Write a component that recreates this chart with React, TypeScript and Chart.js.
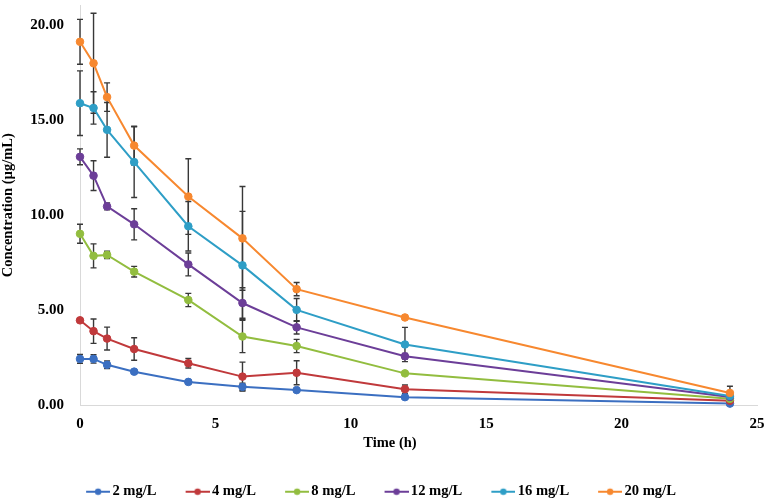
import React, { useEffect, useRef } from 'react';
import { Chart, registerables } from 'chart.js';

Chart.register(...registerables);

// ---- data ----
const times = [0, 0.5, 1, 2, 4, 6, 8, 12, 24];
const seriesLabels = ['2 mg/L', '4 mg/L', '8 mg/L', '12 mg/L', '16 mg/L', '20 mg/L'];

const conc2 = [2.45, 2.45, 2.14, 1.78, 1.24, 0.98, 0.81, 0.44, 0.1];
const conc4 = [4.48, 3.91, 3.52, 2.97, 2.22, 1.52, 1.72, 0.86, 0.25];
const conc8 = [9.03, 7.87, 7.92, 7.04, 5.55, 3.63, 3.13, 1.69, 0.35];
const conc12 = [13.08, 12.09, 10.47, 9.53, 7.42, 5.39, 4.11, 2.59, 0.45];
const conc16 = [15.9, 15.65, 14.5, 12.8, 9.43, 7.37, 5.03, 3.21, 0.5];
const conc20 = [19.13, 18.0, 16.22, 13.67, 10.99, 8.79, 6.12, 4.63, 0.66];

const err2 = [0.23, 0.22, 0.2, 0.1, 0.1, 0.19, 0.06, 0.05, 0.05];
const err4 = [0.1, 0.64, 0.6, 0.59, 0.25, 0.76, 0.63, 0.22, 0.05];
const err8 = [0.5, 0.63, 0.19, 0.28, 0.35, 0.85, 0.35, 0.05, 0.05];
const err12 = [0.42, 0.78, 0.18, 0.82, 0.6, 0.8, 0.35, 0.15, 0.05];
const err16 = [1.7, 0.85, 1.44, 1.86, 1.3, 2.84, 0.6, 0.9, 0.1];
const err20 = [1.18, 2.63, 0.75, 1.02, 1.99, 2.73, 0.35, 0.1, 0.35];

const xTicks = [0, 5, 10, 15, 20, 25];
const yTicks = [0, 5, 10, 15, 20];

const xTitle = 'Time (h)';
const yTitle = 'Concentration (µg/mL)';

// ---- style ----
const colors = ['#3B6FC1', '#C0393B', '#92BD3F', '#6C3E98', '#2E9EC6', '#F7882F'];
const allValues = [conc2, conc4, conc8, conc12, conc16, conc20];
const allErrors = [err2, err4, err8, err12, err16, err20];

const W = 765;
const H = 501;
const PAD_BOTTOM = -8;
const PLOT_BOTTOM = 405.5;
const Y_MAX = PLOT_BOTTOM / 19.25;
const FAMILY = "'Liberation Serif', 'Times New Roman', Times, serif";

function legendIcon(color: string) {
  const c = document.createElement('canvas');
  c.width = 34;
  c.height = 10;
  const g = c.getContext('2d')!;
  g.strokeStyle = color;
  g.lineWidth = 2;
  g.beginPath();
  g.moveTo(10, 5);
  g.lineTo(34, 5);
  g.stroke();
  g.fillStyle = color;
  g.beginPath();
  g.arc(22, 5, 3.2, 0, Math.PI * 2);
  g.fill();
  return c;
}

const errorBarPlugin = {
  id: 'errorBars',
  beforeDatasetsDraw(chart: any) {
    const { ctx } = chart;
    const xs = chart.scales.x;
    const ys = chart.scales.y;
    ctx.save();
    ctx.strokeStyle = '#383838';
    ctx.lineWidth = 1.4;
    allValues.forEach((vals, i) => {
      const errs = allErrors[i];
      vals.forEach((v, j) => {
        const e = errs[j];
        const px = xs.getPixelForValue(times[j]);
        const top = ys.getPixelForValue(v + e);
        const bot = ys.getPixelForValue(v - e);
        ctx.beginPath();
        ctx.moveTo(px, top);
        ctx.lineTo(px, bot);
        ctx.moveTo(px - 3, top);
        ctx.lineTo(px + 3, top);
        ctx.moveTo(px - 3, bot);
        ctx.lineTo(px + 3, bot);
        ctx.stroke();
      });
    });
    ctx.restore();
  },
};

const xTitlePlugin = {
  id: 'xTitle',
  afterDraw(chart: any) {
    const { ctx, chartArea } = chart;
    const xs = chart.scales.x;
    ctx.save();
    ctx.font = `bold 14.5px ${FAMILY}`;
    ctx.fillStyle = '#000';
    ctx.textAlign = 'center';
    ctx.textBaseline = 'middle';
    ctx.fillText(xTitle, chartArea.left + 310, xs.top + 38);
    ctx.restore();
  },
};

export default function App() {
  const ref = useRef<HTMLCanvasElement | null>(null);

  useEffect(() => {
    document.body.style.margin = '0';
    const canvas = ref.current!;
    const icons = colors.map(legendIcon);
    const tickFont = { family: FAMILY, size: 15, weight: 'bold' as const };
    const titleFont = { family: FAMILY, size: 14.5, weight: 'bold' as const, lineHeight: 1.15 };

    const chart = new Chart(canvas, {
      type: 'line',
      data: {
        datasets: seriesLabels.map((label, i) => ({
          label,
          data: times.map((t, j) => ({ x: t, y: allValues[i][j] })),
          borderColor: colors[i],
          backgroundColor: colors[i],
          pointBackgroundColor: colors[i],
          pointBorderColor: colors[i],
          borderWidth: 2,
          pointRadius: 3.8,
          pointBorderWidth: 1,
          tension: 0,
          clip: false as any,
          order: seriesLabels.length - i,
        })),
      },
      options: {
        responsive: false,
        animation: false,
        events: [],
        layout: { padding: { left: 0, top: 0, right: 8, bottom: PAD_BOTTOM } },
        scales: {
          x: {
            type: 'linear',
            min: 0,
            max: 25,
            afterBuildTicks: (s: any) => {
              s.ticks = xTicks.map((v) => ({ value: v }));
            },
            ticks: {
              padding: 10,
              font: tickFont,
              color: '#000',
              maxRotation: 0,
              callback: (v: any) => String(v),
            },
            grid: { display: false, drawTicks: false },
            border: { display: true, color: '#d9d9d9', width: 1 },
            afterFit: (s: any) => {
              const lh = s.chart.legend ? s.chart.legend.height : 0;
              s.height = H - PAD_BOTTOM - lh - PLOT_BOTTOM;
              s.paddingLeft = 0;
              s.paddingRight = 0;
            },
          },
          y: {
            type: 'linear',
            min: 0,
            max: Y_MAX,
            afterBuildTicks: (s: any) => {
              s.ticks = yTicks.map((v) => ({ value: v }));
            },
            ticks: {
              padding: 16,
              font: tickFont,
              color: '#000',
              callback: (v: any) => Number(v).toFixed(2),
            },
            grid: { display: false, drawTicks: false },
            border: { display: true, color: '#d9d9d9', width: 1 },
            title: {
              display: true,
              text: yTitle,
              font: titleFont,
              color: '#000',
              padding: { top: 0, bottom: 0 },
            },
            afterFit: (s: any) => {
              s.width = 80;
              s.paddingTop = 0;
              s.paddingBottom = 0;
            },
          },
        },
        plugins: {
          tooltip: { enabled: false },
          legend: {
            position: 'bottom',
            labels: {
              usePointStyle: true,
              pointStyleWidth: 24,
              padding: 24,
              color: '#000',
              font: { family: FAMILY, size: 14.6, weight: 'bold' },
              generateLabels: () =>
                seriesLabels.map((text, i) => ({
                  text,
                  fillStyle: colors[i],
                  strokeStyle: colors[i],
                  lineWidth: 0,
                  pointStyle: icons[i],
                  hidden: false,
                  datasetIndex: i,
                  fontColor: '#000',
                })),
            },
          },
        },
      },
      plugins: [errorBarPlugin, xTitlePlugin],
    } as any);

    return () => chart.destroy();
  }, []);

  return (
    <div style={{ width: W, height: H }}>
      <canvas ref={ref} width={W} height={H} style={{ display: 'block' }} />
    </div>
  );
}
